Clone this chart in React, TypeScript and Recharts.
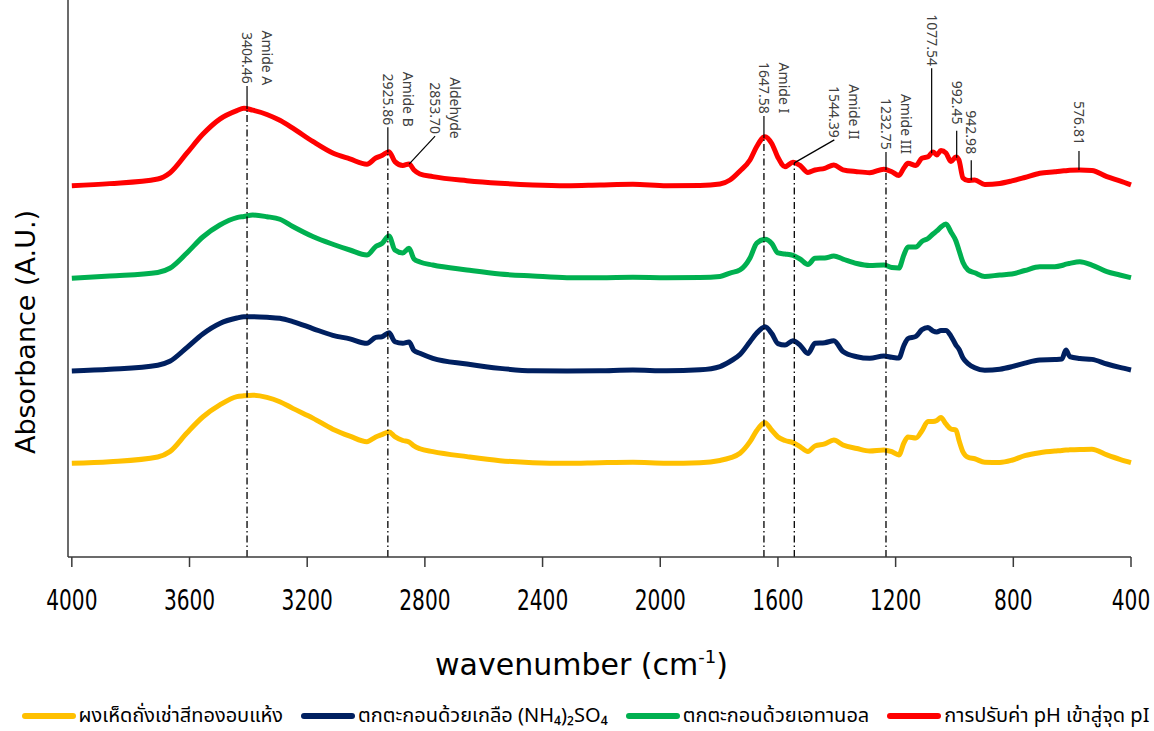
import { Label, Legend, Line, LineChart, ReferenceLine, XAxis, YAxis } from 'recharts'

// wavenumber grid (cm-1), shared by all four spectra
const wavenumbers = [
  4000, 3871, 3708, 3667, 3609, 3555, 3497, 3439, 3415, 3385,
  3337, 3293, 3249, 3181, 3113, 3055, 2997, 2967, 2946, 2922,
  2902, 2875, 2854, 2837, 2817, 2773, 2657, 2545, 2433, 2317,
  2205, 2093, 1978, 1865, 1797, 1763, 1729, 1695, 1672, 1644,
  1621, 1600, 1576, 1549, 1525, 1498, 1474, 1441, 1410, 1379,
  1332, 1288, 1240, 1213, 1189, 1172, 1158, 1131, 1111, 1090,
  1073, 1060, 1046, 1029, 1012, 995, 985, 971, 954, 931,
  897, 846, 805, 761, 710, 659, 635, 621, 608, 574,
  533, 482, 438, 400,
]

const driedPowder = [
  0.010, 0.027, 0.078, 0.135, 0.336, 0.508, 0.638, 0.728, 0.737, 0.743,
  0.720, 0.673, 0.601, 0.496, 0.377, 0.302, 0.242, 0.293, 0.318, 0.347,
  0.296, 0.255, 0.239, 0.196, 0.166, 0.135, 0.081, 0.038, 0.016, 0.010,
  0.016, 0.020, 0.010, 0.016, 0.040, 0.067, 0.117, 0.242, 0.363, 0.447,
  0.365, 0.293, 0.255, 0.232, 0.189, 0.137, 0.196, 0.218, 0.261, 0.207,
  0.169, 0.142, 0.153, 0.134, 0.099, 0.228, 0.293, 0.282, 0.358, 0.460,
  0.460, 0.471, 0.503, 0.433, 0.379, 0.368, 0.261, 0.131, 0.074, 0.058,
  0.020, 0.018, 0.042, 0.092, 0.124, 0.142, 0.148, 0.153, 0.154, 0.157,
  0.160, 0.099, 0.051, 0.016,
]

const saltPrecipitated = [
  0.003, 0.022, 0.066, 0.108, 0.256, 0.403, 0.516, 0.574, 0.588, 0.588,
  0.582, 0.571, 0.536, 0.461, 0.388, 0.350, 0.302, 0.366, 0.373, 0.416,
  0.319, 0.302, 0.316, 0.224, 0.194, 0.140, 0.079, 0.032, 0.006, 0.003,
  0.006, 0.014, 0.006, 0.017, 0.052, 0.106, 0.181, 0.319, 0.413, 0.480,
  0.407, 0.299, 0.283, 0.330, 0.283, 0.192, 0.302, 0.308, 0.330, 0.213,
  0.157, 0.140, 0.165, 0.151, 0.143, 0.278, 0.353, 0.377, 0.447, 0.472,
  0.434, 0.423, 0.440, 0.440, 0.380, 0.283, 0.240, 0.143, 0.084, 0.039,
  0.012, 0.023, 0.050, 0.089, 0.122, 0.127, 0.132, 0.229, 0.159, 0.138,
  0.129, 0.079, 0.042, 0.014,
]

const ethanolPrecipitated = [
  0.002, 0.027, 0.065, 0.110, 0.275, 0.447, 0.576, 0.656, 0.668, 0.684,
  0.666, 0.638, 0.560, 0.452, 0.369, 0.307, 0.253, 0.345, 0.377, 0.458,
  0.307, 0.275, 0.325, 0.210, 0.178, 0.145, 0.092, 0.048, 0.027, 0.009,
  0.009, 0.013, 0.009, 0.011, 0.022, 0.059, 0.092, 0.221, 0.382, 0.422,
  0.377, 0.275, 0.264, 0.248, 0.210, 0.151, 0.218, 0.221, 0.242, 0.210,
  0.162, 0.140, 0.145, 0.118, 0.113, 0.253, 0.339, 0.339, 0.399, 0.431,
  0.479, 0.512, 0.555, 0.587, 0.501, 0.404, 0.307, 0.172, 0.092, 0.062,
  0.022, 0.038, 0.048, 0.086, 0.127, 0.127, 0.140, 0.154, 0.163, 0.181,
  0.145, 0.073, 0.038, 0.009,
]

const isoelectricPrecipitated = [
  0.000, 0.022, 0.072, 0.137, 0.350, 0.553, 0.717, 0.808, 0.834, 0.813,
  0.767, 0.704, 0.620, 0.476, 0.351, 0.288, 0.231, 0.298, 0.325, 0.366,
  0.259, 0.218, 0.234, 0.169, 0.126, 0.097, 0.054, 0.026, 0.008, 0.000,
  0.008, 0.015, 0.000, 0.002, 0.018, 0.061, 0.158, 0.277, 0.422, 0.528,
  0.455, 0.304, 0.205, 0.252, 0.218, 0.142, 0.169, 0.187, 0.223, 0.171,
  0.151, 0.140, 0.177, 0.150, 0.110, 0.191, 0.241, 0.218, 0.295, 0.312,
  0.363, 0.331, 0.379, 0.352, 0.261, 0.309, 0.277, 0.083, 0.056, 0.061,
  0.013, 0.024, 0.051, 0.088, 0.134, 0.150, 0.158, 0.161, 0.165, 0.169,
  0.164, 0.097, 0.051, 0.008,
]

const seriesNames = [
  'ผงเห็ดถั่งเช่าสีทองอบแห้ง',
  'ตกตะกอนด้วยเกลือ (NH₄)₂SO₄',
  'ตกตะกอนด้วยเอทานอล',
  'การปรับค่า pH เข้าสู่จุด pI',
]
const seriesColors = ['#FFC000', '#002060', '#00B050', '#FF0000']
// vertical stacking offset of each spectrum (A.U.)
const stackOffsets = [1, 2, 3, 4]

const xTicks = [4000, 3600, 3200, 2800, 2400, 2000, 1600, 1200, 800, 400]

const peakPositions = [3404.46, 2925.86, 2853.7, 1647.58, 1544.39, 1232.75, 1077.54, 992.45, 942.98, 576.81]
const peakValueLabels = ['3404.46', '2925.86', '2853.70', '1647.58', '1544.39', '1232.75', '1077.54', '992.45', '942.98', '576.81']
const peakNames = ['Amide A', 'Amide B', 'Aldehyde', 'Amide I', 'Amide II', 'Amide III', '', '', '', '']
// peaks that get a dash-dot guide down to the axis
const guidedPeaks = ['Amide A', 'Amide B', 'Amide I', 'Amide II', 'Amide III']

const series = [driedPowder, saltPrecipitated, ethanolPrecipitated, isoelectricPrecipitated]
const rows = wavenumbers.map((wn, i) => {
  const row: Record<string, number> = { wn }
  series.forEach((s, k) => {
    row['s' + k] = +(s[i] + stackOffsets[k]).toFixed(3)
  })
  return row
})

const Y_MAX = 6
const PLOT_H = 557
const pxToY = (px: number) => (px * Y_MAX) / PLOT_H
const pxToWn = (px: number) => px / 0.2942

// leader geometry above the top spectrum: rise in px, and sideways shift (px, to the right)
// for labels that are moved clear of a neighbour
const leaderRise: Record<string, number> = {
  '3404.46': 23, '2925.86': 25, '2853.70': 28, '1647.58': 22, '1544.39': 23,
  '1232.75': 18, '1077.54': 85, '992.45': 27, '942.98': 20, '576.81': 19,
}
const leaderShift: Record<string, number> = { '2853.70': 26, '1544.39': 40 }

// value of the top (red) spectrum at a given wavenumber
function topSpectrumAt(wn: number) {
  const s = isoelectricPrecipitated
  for (let i = 0; i < wavenumbers.length - 1; i++) {
    const a = wavenumbers[i]
    const b = wavenumbers[i + 1]
    if (wn <= a && wn >= b) {
      const t = (a - wn) / (a - b)
      return s[i] + t * (s[i + 1] - s[i]) + stackOffsets[3]
    }
  }
  return stackOffsets[3]
}

const labelFont = "'Noto Sans', 'DejaVu Sans', sans-serif"
const thaiFont = "'Noto Sans Thai', 'Noto Sans Thai UI', Tahoma, 'Noto Sans', 'DejaVu Sans', sans-serif"

function PeakLabel({ viewBox, value, name }: any) {
  const x = viewBox.x + viewBox.width
  const cy = viewBox.y - 28
  const vx = x - 5
  const nx = x + 15
  return (
    <g fill="#404040" fontSize={14} fontFamily={labelFont}>
      <text x={vx} y={cy} textAnchor="middle" transform={`rotate(90 ${vx} ${cy})`}>
        {value}
      </text>
      {name ? (
        <text x={nx} y={cy} textAnchor="middle" transform={`rotate(90 ${nx} ${cy})`}>
          {name}
        </text>
      ) : null}
    </g>
  )
}

function WavenumberTick({ x, y, payload }: any) {
  return (
    <g transform={`translate(${x},${y})`}>
      <text
        transform="scale(0.8,1)"
        textAnchor="middle"
        dy="0.71em"
        fontSize={28}
        fontFamily="'DejaVu Sans Condensed', 'DejaVu Sans', sans-serif"
        fill="#000"
      >
        {payload.value}
      </text>
    </g>
  )
}

function SpectraLegend({ payload }: any) {
  const items = [...(payload || [])].sort(
    (a: any, b: any) => seriesNames.indexOf(a.value) - seriesNames.indexOf(b.value),
  )
  return (
    <div
      style={{
        display: 'flex',
        justifyContent: 'center',
        gap: 18,
        fontFamily: thaiFont,
        fontSize: 20,
        color: '#000',
        height: 30,
        alignItems: 'center',
        paddingLeft: 40,
      }}
    >
      {items.map((p: any) => (
        <div key={p.value} style={{ display: 'flex', alignItems: 'center', whiteSpace: 'nowrap' }}>
          <span
            style={{ width: 54, height: 6, borderRadius: 3, background: p.color, marginRight: 3, display: 'inline-block' }}
          />
          <span>{p.value}</span>
        </div>
      ))}
    </div>
  )
}

export default function App() {
  return (
    <div style={{ position: 'absolute', left: 0, top: 0, background: '#fff' }}>
      <LineChart width={1154} height={731} data={rows} margin={{ top: 0, right: 23, bottom: 0, left: 0 }}>
        <XAxis
          type="number"
          dataKey="wn"
          domain={[400, 4013]}
          reversed
          ticks={xTicks}
          interval={0}
          tickSize={10}
          tickMargin={23}
          height={144}
          axisLine={{ stroke: '#3a3a3a', strokeWidth: 1.5 }}
          tickLine={{ stroke: '#3a3a3a', strokeWidth: 1.5 }}
          tick={<WavenumberTick />}
        >
          <Label
            content={({ viewBox }: any) => {
              const cx = viewBox.x + viewBox.width / 2 - 18
              const y = viewBox.y + 118
              return (
                <text x={cx} y={y} textAnchor="middle" fontSize={30} fontFamily="'DejaVu Sans', sans-serif" fill="#000">
                  wavenumber (cm
                  <tspan dy={-12} fontSize={18}>-1</tspan>
                  <tspan dy={12}>)</tspan>
                </text>
              )
            }}
          />
        </XAxis>
        <YAxis
          type="number"
          domain={[0, Y_MAX]}
          width={68}
          tick={false}
          tickLine={false}
          axisLine={{ stroke: '#3a3a3a', strokeWidth: 1.5 }}
        >
          <Label
            content={({ viewBox }: any) => {
              const x = viewBox.x + 25
              const y = 332
              return (
                <text
                  x={x}
                  y={y}
                  textAnchor="middle"
                  dominantBaseline="central"
                  transform={`rotate(-90 ${x} ${y})`}
                  fontSize={27}
                  fontFamily="'DejaVu Sans', sans-serif"
                  fill="#000"
                >
                  Absorbance (A.U.)
                </text>
              )
            }}
          />
        </YAxis>

        {series.map((_, k) => (
          <Line
            key={k}
            type="monotone"
            dataKey={'s' + k}
            name={seriesNames[k]}
            stroke={seriesColors[k]}
            strokeWidth={5}
            dot={false}
            activeDot={false}
            isAnimationActive={false}
          />
        ))}

        {peakPositions.map((wn, i) =>
          guidedPeaks.includes(peakNames[i]) ? (
            <ReferenceLine
              key={'g' + i}
              segment={[{ x: wn, y: 0 }, { x: wn, y: topSpectrumAt(wn) }]}
              stroke="#000"
              strokeWidth={1.3}
              strokeDasharray="7 3 1.5 3"
            />
          ) : null,
        )}

        {peakPositions.map((wn, i) => {
          const top = topSpectrumAt(wn)
          const key = peakValueLabels[i]
          const shift = leaderShift[key] || 0
          const end = { x: wn - pxToWn(shift), y: top + pxToY(leaderRise[key]) }
          return (
            <ReferenceLine
              key={'l' + i}
              segment={[{ x: wn, y: top }, end]}
              stroke="#000"
              strokeWidth={1.2}
              label={(props: any) => <PeakLabel viewBox={props.viewBox} value={key} name={peakNames[i]} />}
            />
          )
        })}

        <Legend verticalAlign="bottom" content={<SpectraLegend />} />
      </LineChart>
    </div>
  )
}
